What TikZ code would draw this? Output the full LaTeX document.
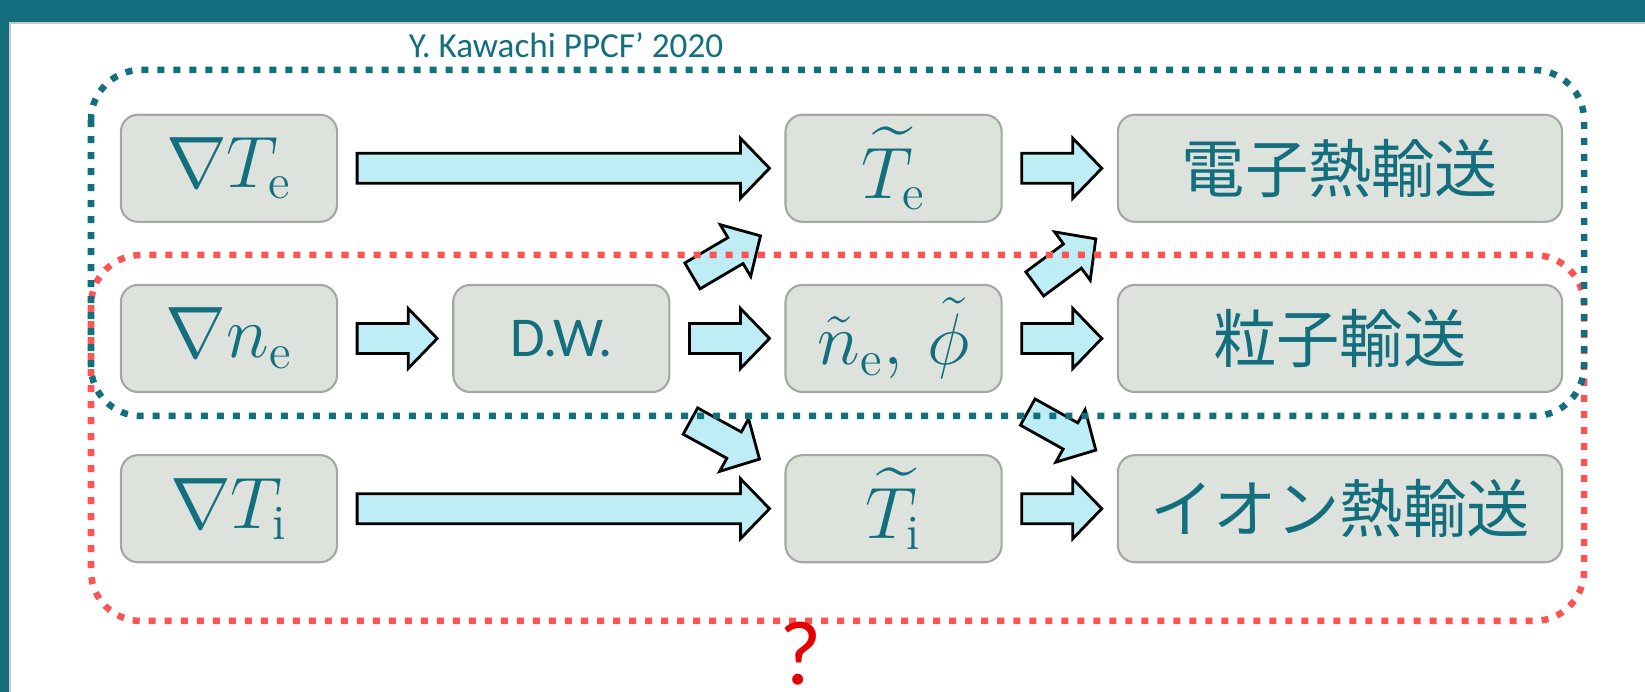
\documentclass[tikz,border=0pt]{standalone}
\usepackage{amsmath}
\usepackage{fontspec}
\setsansfont{Carlito}
\newfontfamily\jpfont{Noto Sans CJK JP}
\usepackage{tikz}
\usetikzlibrary{calc,positioning}

\definecolor{slideteal}{RGB}{19,111,125}
\definecolor{barshade}{RGB}{200,200,200}
\definecolor{boxfill}{RGB}{222,226,221}
\definecolor{boxline}{RGB}{166,166,166}
\definecolor{arrowfill}{RGB}{191,237,245}
\definecolor{dotred}{RGB}{255,82,82}
\definecolor{qred}{RGB}{230,0,0}

% block arrow from #1 to #2 (tip at #2)
\newcommand\fatarrow[2]{%
  \coordinate (fa-h) at ($(#2)!0.29cm!(#1)$);
  \draw[fat arrow] ($(#1)!0.15cm!90:(#2)$) -- ($(fa-h)!0.15cm!90:(#2)$)
    -- ($(fa-h)!0.30cm!90:(#2)$) -- (#2) -- ($(fa-h)!0.30cm!-90:(#2)$)
    -- ($(fa-h)!0.15cm!-90:(#2)$) -- ($(#1)!0.15cm!-90:(#2)$) -- cycle;}

\begin{document}
\begin{tikzpicture}[x=0.01cm,y=-0.01cm,node distance=0.61cm and 1.14cm,
    box/.style={rectangle,rounded corners=0.17cm,draw=boxline,line width=0.6pt,
      fill=boxfill,text=slideteal,inner sep=2pt,
      minimum width=2.16cm,minimum height=1.07cm,
      font=\fontsize{20}{24}\selectfont},
    widebox/.style={box,minimum width=4.44cm,font=\jpfont\fontsize{18}{22}\selectfont},
    fat arrow/.style={draw=black,line width=0.8pt,fill=arrowfill,line join=miter},
    bluedots/.style={draw=slideteal,line width=0.065cm,rounded corners=0.5cm,
      dash pattern=on 0.07cm off 0.09cm},
    reddots/.style={bluedots,draw=dotred}]
  \useasboundingbox (0,0) rectangle (1645,692);

  % slide frame
  \fill[slideteal] (0,0) rectangle (1645,22);
  \fill[barshade] (9,22) rectangle (1645,24);
  \fill[slideteal] (0,0) rectangle (9,692);
  \fill[barshade] (9,22) rectangle (11,692);

  \node[anchor=base,text=slideteal,font=\sffamily\fontsize{10}{12}\selectfont]
    (cite) at (566,58) {Y. Kawachi PPCF’ 2020};

  \node[box] (gne) at (229,338.5) {$\nabla n_{\mathrm{e}}$};
  \node[box] (gTe) [above=of gne] {$\nabla T_{\mathrm{e}}$};
  \node[box] (gTi) [below=of gne] {$\nabla T_{\mathrm{i}}$};
  \node[box,font=\sffamily\fontsize{16}{19}\selectfont] (dw) [right=of gne] {D.W.};
  \node[box] (ne) [right=of dw] {$\tilde{n}_{\mathrm{e}},\,\tilde{\phi}$};
  \node[box] (Te) [above=of ne] {$\widetilde{T}_{\mathrm{e}}$};
  \node[box] (Ti) [below=of ne] {$\widetilde{T}_{\mathrm{i}}$};
  \node[widebox] (ptrans) [right=of ne] {粒子輸送};
  \node[widebox] (etrans) [above=of ptrans] {電子熱輸送};
  \node[widebox] (itrans) [below=of ptrans] {イオン熱輸送};

  % straight arrows
  \foreach \a/\b in {gTe/Te,gTi/Ti,gne/dw,dw/ne,Te/etrans,ne/ptrans,Ti/itrans}{
    \coordinate (s) at ($(\a.east)+(19,0)$);
    \coordinate (t) at ($(\b.west)+(-15,0)$);
    \fatarrow{s}{t}
  }

  % slanted arrows
  \coordinate (d1s) at ($(dw.north east)+(22,-8)$);
  \coordinate (d1t) at ($(Te.south west)+(-24,13)$);
  \coordinate (d2s) at ($(ne.north east)+(32,0)$);
  \coordinate (d2t) at ($(etrans.south west)+(-21,16)$);
  \coordinate (d3s) at ($(dw.south east)+(20,28)$);
  \coordinate (d3t) at ($(Ti.north west)+(-25,5)$);
  \coordinate (d4s) at ($(ne.south east)+(25,19)$);
  \coordinate (d4t) at ($(itrans.north west)+(-21,-4)$);
  \fatarrow{d1s}{d1t}
  \fatarrow{d2s}{d2t}
  \fatarrow{d3s}{d3t}
  \fatarrow{d4s}{d4t}

  % groups
  \draw[reddots] (91,255) rectangle (1584,621);
  \draw[bluedots] (91,70) rectangle (1584,416);

  \node[anchor=base,inner sep=0pt,text=qred,font=\sffamily\fontsize{26}{30}\selectfont]
    (quest) at (801,685) {?};
\end{tikzpicture}
\end{document}
